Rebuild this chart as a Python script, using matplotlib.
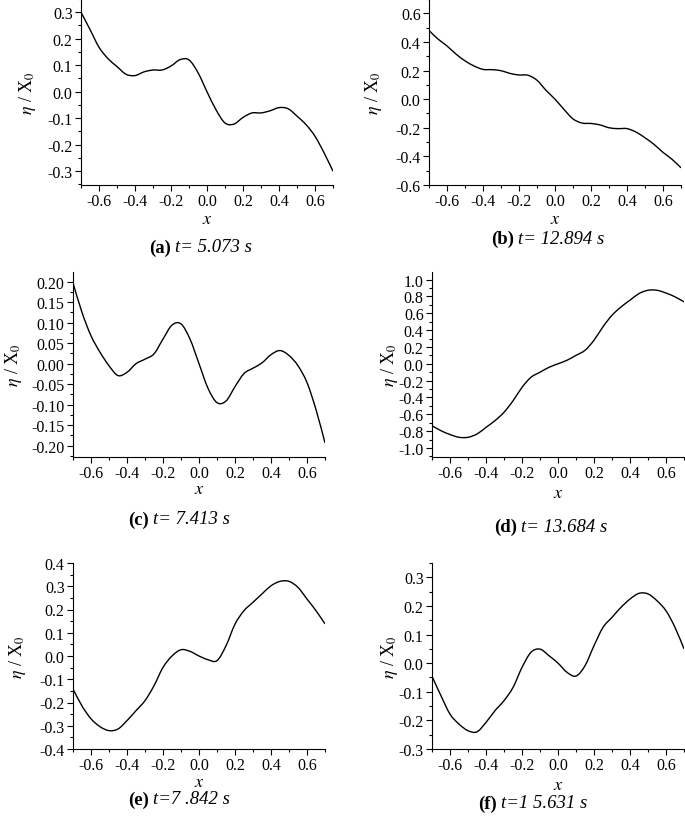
import matplotlib
matplotlib.use("Agg")
import matplotlib.pyplot as plt
from matplotlib.path import Path
from matplotlib.patches import PathPatch
from matplotlib.ticker import MultipleLocator, FormatStrFormatter

plt.rcParams['font.family'] = ['Liberation Serif', 'DejaVu Serif']
plt.rcParams['mathtext.fontset'] = 'stix'

# x positions shared by all panels
x_pts = [-0.70, -0.65, -0.60, -0.55, -0.50, -0.45, -0.40, -0.35, -0.30, -0.25,
         -0.20, -0.15, -0.10, -0.05, 0.00, 0.05, 0.10, 0.15, 0.20, 0.25,
         0.30, 0.35, 0.40, 0.45, 0.50, 0.55, 0.60, 0.65, 0.70]

eta_a = [0.300, 0.235, 0.168, 0.125, 0.095, 0.066, 0.061, 0.075, 0.082, 0.082,
         0.097, 0.121, 0.120, 0.072, 0.000, -0.068, -0.118, -0.122, -0.097, -0.080,
         -0.080, -0.072, -0.060, -0.064, -0.092, -0.124, -0.168, -0.230, -0.300]
eta_b = [0.480, 0.420, 0.372, 0.315, 0.268, 0.232, 0.208, 0.206, 0.199, 0.180,
         0.169, 0.167, 0.132, 0.062, 0.000, -0.072, -0.138, -0.167, -0.170, -0.180,
         -0.200, -0.206, -0.206, -0.230, -0.270, -0.316, -0.372, -0.420, -0.480]
eta_c = [0.197, 0.125, 0.068, 0.028, -0.005, -0.029, -0.021, 0.000, 0.011, 0.024,
         0.060, 0.094, 0.097, 0.060, 0.000, -0.060, -0.095, -0.091, -0.056, -0.024,
         -0.011, 0.002, 0.022, 0.032, 0.020, -0.005, -0.046, -0.112, -0.193]
eta_d = [-0.735, -0.795, -0.840, -0.873, -0.873, -0.834, -0.755, -0.675, -0.576, -0.440,
         -0.280, -0.160, -0.100, -0.042, 0.000, 0.042, 0.100, 0.160, 0.280, 0.440,
         0.576, 0.675, 0.755, 0.834, 0.873, 0.873, 0.840, 0.795, 0.735]
eta_e = [-0.142, -0.215, -0.270, -0.304, -0.321, -0.314, -0.278, -0.235, -0.192, -0.128,
         -0.049, 0.000, 0.027, 0.020, 0.000, -0.016, -0.020, 0.044, 0.137, 0.195,
         0.231, 0.267, 0.302, 0.321, 0.321, 0.295, 0.245, 0.195, 0.138]
eta_f = [-0.046, -0.114, -0.178, -0.213, -0.236, -0.240, -0.207, -0.166, -0.131, -0.085,
         -0.015, 0.038, 0.049, 0.026, 0.000, -0.032, -0.045, -0.009, 0.061, 0.125,
         0.160, 0.195, 0.224, 0.244, 0.242, 0.218, 0.183, 0.125, 0.050]

letters = ['(a)', '(b)', '(c)', '(d)', '(e)', '(f)']
times = ['t= 5.073 s', 't= 12.894 s', 't= 7.413 s', 't= 13.684 s', 't=7 .842 s', 't=1 5.631 s']
series = [eta_a, eta_b, eta_c, eta_d, eta_e, eta_f]
ylims = [(-0.352, 0.35), (-0.6, 0.7), (-0.2275, 0.2235), (-1.107, 1.09), (-0.4, 0.4), (-0.3, 0.35)]
y_major = [0.1, 0.2, 0.05, 0.2, 0.1, 0.1]
y_fmt = ['%.1f', '%.1f', '%.2f', '%.1f', '%.1f', '%.1f']

W, H = 685, 820
# pixel layout: left, top, bottom of each axes; label centres; caption split x, caption y
boxes = [(81, 0, 186), (429, 0, 186), (73, 273, 458), (432, 273, 458), (73, 564, 750), (432, 564, 750)]
ylab_dx = [53, 56, 59, 42, 55, 42]
xlab_dy = [33, 33, 32, 35, 33, 36]
caps = [(172, 248), (515, 239), (150, 520), (518, 527), (150, 800), (498, 804)]


def smooth_path(xs, ys):
    # Catmull-Rom curve through the read points, drawn as cubic Bezier segments
    verts = [(xs[0], ys[0])]
    codes = [Path.MOVETO]
    n = len(xs)
    for k in range(n - 1):
        x0, y0 = (xs[k - 1], ys[k - 1]) if k > 0 else (xs[k], ys[k])
        x1, y1 = xs[k], ys[k]
        x2, y2 = xs[k + 1], ys[k + 1]
        x3, y3 = (xs[k + 2], ys[k + 2]) if k + 2 < n else (x2, y2)
        verts += [(x1 + (x2 - x0) / 6, y1 + (y2 - y0) / 6),
                  (x2 - (x3 - x1) / 6, y2 - (y3 - y1) / 6),
                  (x2, y2)]
        codes += [Path.CURVE4] * 3
    return Path(verts, codes)


fig = plt.figure(figsize=(W / 100, H / 100), dpi=100)

for i in range(6):
    left, top, bottom = boxes[i]
    ax = fig.add_axes([left / W, 1 - bottom / H, 252 / W, (bottom - top) / H])
    ax.add_patch(PathPatch(smooth_path(x_pts, series[i]), facecolor='none',
                           edgecolor='black', lw=1.0))
    ax.set_xlim(-0.7, 0.7)
    ax.set_ylim(*ylims[i])
    ax.spines['top'].set_visible(False)
    ax.spines['right'].set_visible(False)
    ax.xaxis.set_major_locator(MultipleLocator(0.2))
    ax.xaxis.set_minor_locator(MultipleLocator(0.1))
    ax.yaxis.set_major_locator(MultipleLocator(y_major[i]))
    ax.yaxis.set_minor_locator(MultipleLocator(y_major[i] / 2))
    ax.xaxis.set_major_formatter(FormatStrFormatter('%.1f'))
    ax.yaxis.set_major_formatter(FormatStrFormatter(y_fmt[i]))
    ax.tick_params(which='major', length=4, width=0.8, labelsize=11.5, pad=2)
    ax.tick_params(which='minor', length=2, width=0.8)
    ax.set_xticks([-0.6, -0.4, -0.2, 0.0, 0.2, 0.4, 0.6])
    ax.set_xlabel('$x$', fontsize=13, va='center')
    ax.xaxis.set_label_coords(0.5, -xlab_dy[i] / (bottom - top))
    ax.set_ylabel(r'$\eta$ / X$_0$', fontsize=13, va='center')
    ax.yaxis.set_label_coords(-ylab_dx[i] / 252, 0.5)

    cx, cy = caps[i]
    fig.text(cx / W - 0.002, 1 - cy / H, letters[i], ha='right', va='center',
             fontsize=13.5, fontweight='bold')
    fig.text(cx / W + 0.004, 1 - cy / H, times[i], ha='left', va='center',
             fontsize=13.5, style='italic')

fig.savefig('out.png', dpi=100)
